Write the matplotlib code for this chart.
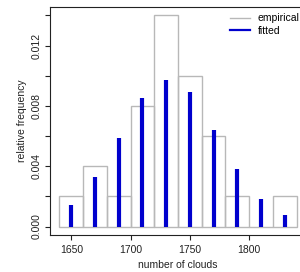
import matplotlib
matplotlib.use("Agg")
import matplotlib.pyplot as plt
from matplotlib.lines import Line2D

plt.rcParams["font.family"] = ["Liberation Sans", "DejaVu Sans"]

# empirical histogram (bin edges, relative frequency) and fitted values at bin mids
BIN_EDGES = [1640, 1660, 1680, 1700, 1720, 1740, 1760, 1780, 1800, 1820, 1840]
EMPIRICAL = [0.002, 0.004, 0.002, 0.008, 0.014, 0.010, 0.006, 0.002, 0.000, 0.002]
MIDS = [1650, 1670, 1690, 1710, 1730, 1750, 1770, 1790, 1810, 1830]
FITTED = [0.00145, 0.0033, 0.0059, 0.0085, 0.0097, 0.0089, 0.0064, 0.0038, 0.0018, 0.00075]
XTICKS = [1650, 1700, 1750, 1800]
YTICKS = [0.000, 0.002, 0.004, 0.006, 0.008, 0.010, 0.012, 0.014]
YLABELED = [0.000, 0.004, 0.008, 0.012]

GREY = "#b8b8b8"
BLUE = "#0000cd"
FS = 7.5

fig = plt.figure(figsize=(3.0, 2.72), dpi=100)
ax = fig.add_axes([50 / 300, 37 / 272, 256 / 300, 228 / 272])

widths = [b - a for a, b in zip(BIN_EDGES[:-1], BIN_EDGES[1:])]
ax.bar(BIN_EDGES[:-1], EMPIRICAL, width=widths, align="edge", fill=False,
       edgecolor=GREY, linewidth=1.0, zorder=2)
ax.vlines(MIDS, 0, FITTED, colors=BLUE, linewidth=3.0, capstyle="butt", zorder=3)

ax.set_xlim(1632, 1848)
ax.set_ylim(-0.00056, 0.01456)
ax.set_xticks(XTICKS)
ax.set_xticklabels([str(v) for v in XTICKS])
ax.set_yticks(YTICKS)
ax.set_yticklabels([f"{v:.3f}" if v in YLABELED else "" for v in YTICKS],
                   rotation=90, va="center")
ax.tick_params(direction="out", length=3.6, width=0.8, labelsize=FS, colors="#222222")
ax.tick_params(axis="x", pad=3.5)
ax.tick_params(axis="y", pad=2.5)
for s in ax.spines.values():
    s.set_color("#222222")
    s.set_linewidth(0.8)

ax.set_xlabel("number of clouds", fontsize=FS, color="#222222", labelpad=4)
ax.set_ylabel("relative frequency", fontsize=FS, color="#222222", labelpad=3)

handles = [Line2D([], [], color=GREY, lw=1.0), Line2D([], [], color=BLUE, lw=1.6)]
ax.legend(handles, ["empirical", "fitted"], loc="upper left",
          bbox_to_anchor=(0.703, 0.972), frameon=False, fontsize=FS,
          handlelength=1.9, handletextpad=0.75, labelspacing=0.25,
          borderpad=0, borderaxespad=0)

fig.savefig("out.png", dpi=100)
